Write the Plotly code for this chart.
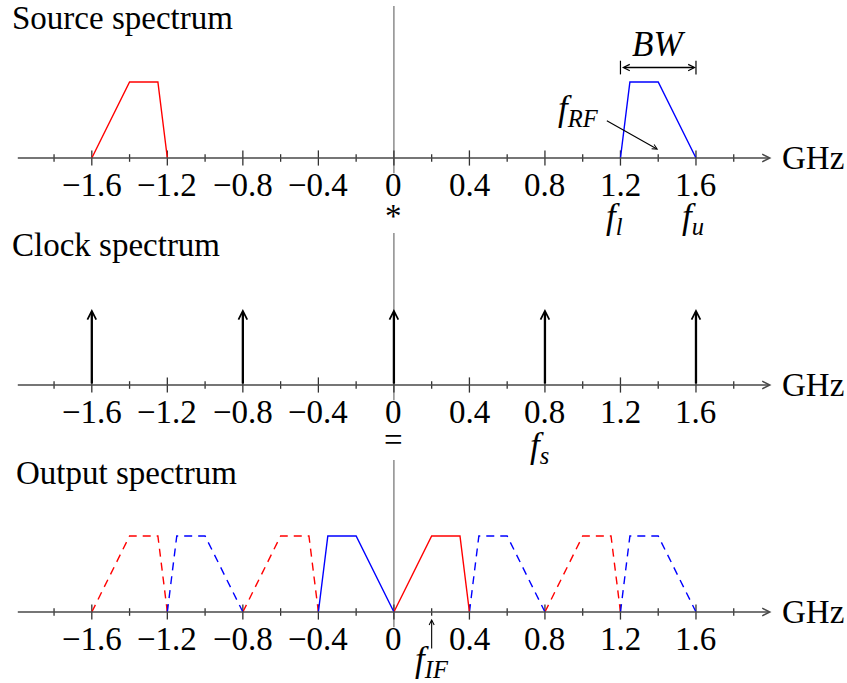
import plotly.graph_objects as go

# ---------------- data ----------------
major_ticks = [-1.6, -1.2, -0.8, -0.4, 0.0, 0.4, 0.8, 1.2, 1.6]
major_labels = ["\u22121.6", "\u22121.2", "\u22120.8", "\u22120.4", "0", "0.4", "0.8", "1.2", "1.6"]
minor_ticks = [-1.8, -1.4, -1.0, -0.6, -0.2, 0.2, 0.6, 1.0, 1.4, 1.8]
axis_start, axis_end = -2.0, 2.0
vline_bottom, vline_top = -0.2, 2.0

band_amp = [0, 1, 1, 0]
# source spectrum (GHz)
src_red_f = [-1.6, -1.4, -1.25, -1.2]
src_blue_f = [1.2, 1.25, 1.4, 1.6]
# clock spectrum
clock_f = [-1.6, -0.8, 0.0, 0.8, 1.6]
clock_amp = 1.0
# output spectrum
out_red_solid_f = [0.0, 0.2, 0.35, 0.4]
out_blue_solid_f = [-0.4, -0.35, -0.2, 0.0]
out_red_dashed_f = [[-1.6, -1.4, -1.25, -1.2], [-0.8, -0.6, -0.45, -0.4], [0.8, 1.0, 1.15, 1.2]]
out_blue_dashed_f = [[-1.2, -1.15, -1.0, -0.8], [0.4, 0.45, 0.6, 0.8], [1.2, 1.25, 1.4, 1.6]]

# annotation anchor values
f_low, f_up = 1.2, 1.6
bw_level = 1.19
frf_tail = (1.12, 0.5)
frf_head = (1.4, 0.11)
f_s = 0.8
f_if = 0.2

FONT = "Liberation Serif, DejaVu Serif, serif"
FS = 33
RED = "#ff0000"
BLUE = "#0000ff"
AXC = "#4a4a4a"
VC = "#7a7a7a"

X_RANGE = [-2.0863, 2.3999]
Y_RANGE = [-0.9079, 2.0789]
domains = [[0.66764, 1.0], [0.33529, 0.66764], [0.00293, 0.33529]]

fig = go.Figure()
annotations = []


def ax_names(i):
    s = "" if i == 0 else str(i + 1)
    return "x" + s, "y" + s


def add_line(i, xs, ys, color, width, dash="solid"):
    xr, yr = ax_names(i)
    fig.add_trace(go.Scatter(x=xs, y=ys, mode="lines", xaxis=xr, yaxis=yr,
                             line=dict(color=color, width=width, dash=dash),
                             hoverinfo="skip", showlegend=False))


def add_text(i, x, y, text, size=FS, xanchor="center", yanchor="middle", xshift=0, yshift=0):
    xr, yr = ax_names(i)
    annotations.append(dict(x=x, y=y, xref=xr, yref=yr, text=text, showarrow=False,
                            xanchor=xanchor, yanchor=yanchor, xshift=xshift, yshift=yshift,
                            font=dict(family=FONT, size=size, color="black")))


def add_arrow(i, tail, head, color, width, size, head_style=5, both=False):
    xr, yr = ax_names(i)
    a = dict(x=head[0], y=head[1], ax=tail[0], ay=tail[1], xref=xr, yref=yr,
             axref=xr, ayref=yr, text="", showarrow=True, arrowhead=head_style,
             arrowsize=size, arrowwidth=width, arrowcolor=color, standoff=0, startstandoff=0,
             font=dict(family=FONT, size=FS))
    if both:
        a.update(arrowside="end+start", startarrowhead=head_style, startarrowsize=size)
    annotations.append(a)


def draw_axis(i):
    # vertical line
    add_line(i, [0, 0], [vline_bottom, vline_top], VC, 1.3)
    # horizontal axis with arrow
    add_arrow(i, (axis_start, 0), (axis_end, 0), AXC, 1.5, 1.0)
    # ticks
    tx, ty = [], []
    for t in major_ticks:
        tx += [t, t, None]
        ty += [-0.1, 0.1, None]
    for t in minor_ticks:
        tx += [t, t, None]
        ty += [-0.05, 0.05, None]
    add_line(i, tx, ty, "#333333", 1.3)
    for t, lab in zip(major_ticks, major_labels):
        add_text(i, t, -0.36, lab)
    add_text(i, axis_end, 0, "GHz", xanchor="left", xshift=8)


# ---------- panel 1: source ----------
draw_axis(0)
add_line(0, src_red_f, band_amp, RED, 1.4)
add_line(0, src_blue_f, band_amp, BLUE, 1.4)
add_text(0, axis_start, 1.84, "Source spectrum", xanchor="left", xshift=-6)
add_arrow(0, (f_low, bw_level), (f_up, bw_level), "black", 1.4, 0.9, both=True)
add_line(0, [f_low, f_low, None, f_up, f_up], [bw_level - 0.09, bw_level + 0.09, None,
                                               bw_level - 0.09, bw_level + 0.09], "black", 1.2)
add_text(0, (f_low + f_up) / 2, 1.5, "<i>BW</i>", size=FS + 2)
add_arrow(0, frf_tail, frf_head, "black", 1.1, 0.9)
add_text(0, 0.98, 0.62, "<i>f</i><sub><i>RF</i></sub>", size=FS + 2)
add_text(0, f_low, -0.8, "<i>f</i><sub><i>l</i></sub>", size=FS + 2, xshift=-6)
add_text(0, f_up, -0.8, "<i>f</i><sub><i>u</i></sub>", size=FS + 2, xshift=-3)
add_text(0, 0, -0.76, "*")

# ---------- panel 2: clock ----------
draw_axis(1)
for f in clock_f:
    add_arrow(1, (f, 0), (f, clock_amp), "black", 2.3, 0.75)
add_text(1, axis_start, 1.84, "Clock spectrum", xanchor="left", xshift=-6)
add_text(1, 0, -0.72, "=")
add_text(1, f_s, -0.82, "<i>f</i><sub><i>s</i></sub>", size=FS + 2, xshift=-5)

# ---------- panel 3: output ----------
draw_axis(2)
for seg in out_red_dashed_f:
    add_line(2, seg, band_amp, RED, 1.4, dash="8px,6px")
for seg in out_blue_dashed_f:
    add_line(2, seg, band_amp, BLUE, 1.4, dash="8px,6px")
add_line(2, out_red_solid_f, band_amp, RED, 1.4)
add_line(2, out_blue_solid_f, band_amp, BLUE, 1.4)
add_text(2, axis_start, 1.83, "Output spectrum", xanchor="left", xshift=-2)
add_arrow(2, (f_if, -0.5), (f_if, -0.09), "black", 1.1, 0.9)
add_text(2, f_if, -0.65, "<i>f</i><sub><i>IF</i></sub>", size=FS + 2)

layout = dict(width=847, height=683, margin=dict(l=0, r=0, t=0, b=0),
              paper_bgcolor="white", plot_bgcolor="white", showlegend=False,
              annotations=annotations)
for i in range(3):
    s = "" if i == 0 else str(i + 1)
    layout["xaxis" + s] = dict(range=X_RANGE, domain=[0, 1], visible=False,
                               anchor="y" + s, fixedrange=True)
    layout["yaxis" + s] = dict(range=Y_RANGE, domain=domains[i], visible=False,
                               anchor="x" + s, fixedrange=True)
fig.update_layout(**layout)
fig.write_html("out.html")
